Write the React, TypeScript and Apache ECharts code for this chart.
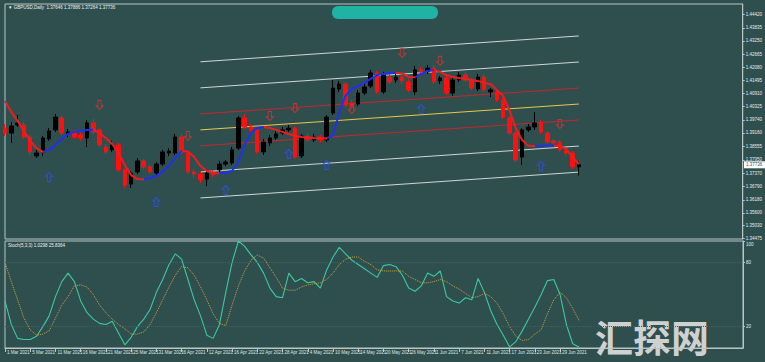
import React, { useEffect, useRef } from 'react';
import * as echarts from 'echarts';

const DATES = ['1 Mar 2021','2 Mar 2021','3 Mar 2021','4 Mar 2021','5 Mar 2021','8 Mar 2021','9 Mar 2021','10 Mar 2021','11 Mar 2021','12 Mar 2021','14 Mar 2021','15 Mar 2021','16 Mar 2021','17 Mar 2021','18 Mar 2021','19 Mar 2021','21 Mar 2021','22 Mar 2021','23 Mar 2021','24 Mar 2021','25 Mar 2021','26 Mar 2021','29 Mar 2021','30 Mar 2021','31 Mar 2021','1 Apr 2021','2 Apr 2021','5 Apr 2021','6 Apr 2021','7 Apr 2021','8 Apr 2021','9 Apr 2021','12 Apr 2021','13 Apr 2021','14 Apr 2021','15 Apr 2021','16 Apr 2021','19 Apr 2021','20 Apr 2021','21 Apr 2021','22 Apr 2021','23 Apr 2021','26 Apr 2021','27 Apr 2021','28 Apr 2021','29 Apr 2021','30 Apr 2021','3 May 2021','4 May 2021','5 May 2021','6 May 2021','7 May 2021','10 May 2021','11 May 2021','12 May 2021','13 May 2021','14 May 2021','17 May 2021','18 May 2021','19 May 2021','20 May 2021','21 May 2021','24 May 2021','25 May 2021','26 May 2021','27 May 2021','28 May 2021','31 May 2021','1 Jun 2021','2 Jun 2021','3 Jun 2021','4 Jun 2021','7 Jun 2021','8 Jun 2021','9 Jun 2021','10 Jun 2021','11 Jun 2021','14 Jun 2021','15 Jun 2021','16 Jun 2021','17 Jun 2021','18 Jun 2021','21 Jun 2021','22 Jun 2021','23 Jun 2021','24 Jun 2021','25 Jun 2021','28 Jun 2021','29 Jun 2021','30 Jun 2021','1 Jul 2021','2 Jul 2021'];

const OPEN = [1.3937,1.3915,1.3951,1.3951,1.3897,1.3813,1.3831,1.3889,1.3929,1.3982,1.3911,1.3915,1.3906,1.3893,1.3960,1.3929,1.3853,1.3840,1.3862,1.3751,1.3688,1.3742,1.3791,1.3764,1.3737,1.3777,1.3826,1.3826,1.3897,1.3826,1.3742,1.3733,1.3710,1.3737,1.3751,1.3777,1.3782,1.3848,1.3982,1.3942,1.3929,1.3831,1.3871,1.3893,1.3915,1.3929,1.3937,1.3813,1.3897,1.3884,1.3897,1.3884,1.4004,1.4111,1.4133,1.4049,1.4044,1.4093,1.4124,1.4182,1.4098,1.4164,1.4151,1.4164,1.4142,1.4098,1.4196,1.4187,1.4204,1.4147,1.4160,1.4093,1.4151,1.4173,1.4151,1.4111,1.4164,1.4098,1.4098,1.4062,1.3982,1.3915,1.3808,1.3929,1.3942,1.3964,1.3915,1.3880,1.3875,1.3840,1.3826,1.37646];
const CLOSE = [1.3915,1.3946,1.3960,1.3897,1.3831,1.3826,1.3893,1.3924,1.3986,1.3915,1.3920,1.3897,1.3893,1.3960,1.3920,1.3862,1.3831,1.3862,1.3751,1.3684,1.3737,1.3791,1.3764,1.3742,1.3777,1.3831,1.3835,1.3897,1.3831,1.3742,1.3733,1.3706,1.3737,1.3728,1.3777,1.3786,1.3840,1.3982,1.3942,1.3929,1.3831,1.3875,1.3893,1.3911,1.3929,1.3937,1.3808,1.3902,1.3884,1.3897,1.3884,1.3986,1.4115,1.4133,1.4040,1.4031,1.4093,1.4120,1.4182,1.4098,1.4173,1.4142,1.4164,1.4147,1.4107,1.4196,1.4187,1.4204,1.4142,1.4160,1.4093,1.4151,1.4173,1.4151,1.4115,1.4164,1.4107,1.4107,1.4062,1.3986,1.3915,1.3795,1.3929,1.3942,1.3960,1.3920,1.3875,1.3871,1.3840,1.3826,1.3764,1.37736];
const LOW = [1.3902,1.3871,1.3942,1.3889,1.3817,1.3804,1.3813,1.3880,1.3920,1.3906,1.3897,1.3889,1.3880,1.3853,1.3911,1.3853,1.3822,1.3831,1.3742,1.3670,1.3670,1.3733,1.3755,1.3733,1.3724,1.3768,1.3813,1.3817,1.3822,1.3733,1.3715,1.3693,1.3679,1.3719,1.3742,1.3768,1.3773,1.3840,1.3933,1.3920,1.3822,1.3817,1.3857,1.3884,1.3906,1.3920,1.3800,1.3804,1.3875,1.3875,1.3871,1.3875,1.3995,1.4098,1.4031,1.4022,1.4035,1.4084,1.4115,1.4089,1.4089,1.4133,1.4138,1.4133,1.4098,1.4084,1.4173,1.4178,1.4133,1.4133,1.4084,1.4080,1.4142,1.4142,1.4107,1.4102,1.4098,1.4075,1.4053,1.3978,1.3906,1.3786,1.3773,1.3920,1.3929,1.3911,1.3866,1.3862,1.3831,1.3813,1.3755,1.37264];
const HIGH = [1.3955,1.3964,1.3995,1.3964,1.3906,1.3840,1.3902,1.3937,1.4000,1.3991,1.3933,1.3929,1.3920,1.3973,1.3978,1.3937,1.3866,1.3880,1.3871,1.3759,1.3746,1.3804,1.3800,1.3773,1.3786,1.3840,1.3848,1.3911,1.3911,1.3835,1.3755,1.3746,1.3751,1.3751,1.3791,1.3795,1.3853,1.3991,1.4000,1.3955,1.3937,1.3889,1.3906,1.3924,1.3942,1.3951,1.3946,1.3911,1.3911,1.3911,1.3906,1.3995,1.4151,1.4147,1.4142,1.4062,1.4107,1.4133,1.4196,1.4191,1.4187,1.4178,1.4178,1.4182,1.4156,1.4213,1.4209,1.4218,1.4218,1.4169,1.4169,1.4169,1.4187,1.4187,1.4160,1.4178,1.4178,1.4115,1.4111,1.4071,1.3991,1.3924,1.3937,1.3955,1.4009,1.3973,1.3924,1.3889,1.3884,1.3848,1.3835,1.37886];

const MA = [1.4058,1.4009,1.3969,1.3924,1.3880,1.3848,1.3831,1.3840,1.3862,1.3889,1.3911,1.3920,1.3924,1.3929,1.3930,1.3915,1.3893,1.3866,1.3826,1.3773,1.3728,1.3710,1.3709,1.3715,1.3724,1.3742,1.3768,1.3804,1.3835,1.3833,1.3808,1.3768,1.3746,1.3737,1.3736,1.3738,1.3746,1.3786,1.3862,1.3915,1.3937,1.3942,1.3937,1.3929,1.3920,1.3911,1.3902,1.3897,1.3896,1.3893,1.3892,1.3891,1.3904,1.4004,1.4080,1.4111,1.4124,1.4138,1.4156,1.4173,1.4178,1.4182,1.4183,1.4180,1.4164,1.4163,1.4178,1.4191,1.4196,1.4187,1.4173,1.4164,1.4160,1.4156,1.4151,1.4147,1.4138,1.4133,1.4107,1.4080,1.4017,1.3937,1.3884,1.3858,1.3857,1.3858,1.3859,1.3860,1.3857,1.3844,1.3808,1.3777];

const STOCH_MAIN = [44,22,9,8,8,11,20,30,48,62,70,62,44,33,27,23,22,25,14,3,10,20,27,36,52,64,78,88,83,64,45,30,12,9,22,52,80,100,95,87,80,70,56,48,47,70,62,65,61,62,56,73,85,94,88,82,78,74,70,66,77,78,76,68,56,53,58,70,67,72,48,44,42,47,45,65,52,35,22,12,1,6,16,27,38,50,63,64,50,22,4,1.0298];
const STOCH_SIGNAL = [80,62,45,28,17,12,13,16,28,40,48,58,59,57,50,40,33,27,22,18,13,13,15,22,33,45,57,68,76,75,68,57,45,32,23,21,40,58,72,82,87,84,75,66,56,54,54,57,59,60,61,64,70,78,83,85,85,81,78,73,72,72,72,72,67,64,61,61,62,64,62,58,55,51,47,48,51,48,42,32,20,11,7,8,13,17,32,45,52,47,37,25.8364];
const STOCH_LEVELS = [80, 20];

const CHANNEL_START_IDX = 31;
const CHANNEL_END_IDX = 91;
const CHANNEL_MID_START = 1.3929;
const CHANNEL_MID_END = 1.4044;
const CHANNEL_DEVS = [0.0071, 0.0187, 0.0303];

const UP_ARROWS_IDX = [7, 24, 35, 45, 51, 66, 85];
const UP_ARROWS_PRICE = [1.3719, 1.3608, 1.3662, 1.3822, 1.3773, 1.4022, 1.3768];
const DOWN_ARROWS_IDX = [15, 29, 42, 46, 55, 63, 69, 88];
const DOWN_ARROWS_PRICE = [1.4040, 1.3902, 1.3991, 1.4026, 1.4022, 1.4271, 1.4236, 1.3955];

const PRICE_TICKS = [1.34475,1.35030,1.35600,1.36180,1.36790,1.37370,1.37950,1.38555,1.39160,1.39740,1.40325,1.40910,1.41495,1.42080,1.42665,1.43250,1.43835,1.44420];
const STOCH_TICKS = [100, 80, 20];

const BG = '#2F4F4F';
const FRAME = '#b9c6c6';
const FONT = 'Liberation Sans';

export default function App() {
  const ref = useRef<HTMLDivElement>(null);
  useEffect(() => {
    const chart = echarts.init(ref.current!, null, { renderer: 'svg' });
    const n = DATES.length;
    const cats = [...DATES];
    for (let i = 0; i < 26; i++) cats.push('pad' + i);
    const ohlc = DATES.map((_, i) => [OPEN[i], CLOSE[i], LOW[i], HIGH[i]]);
    const showIdx = (index: number) => index % 4 === 0 && index < n;

    const pieces: any[] = [];
    for (let i = 1; i < MA.length; i++) {
      const up = MA[i] > MA[i - 1];
      pieces.push(i === 1 ? { gte: 0, lte: 1, color: up ? '#1f2ff0' : '#ee1c1c' } : { gt: i - 1, lte: i, color: up ? '#1f2ff0' : '#ee1c1c' });
    }

    const channelSeries: any[] = [];
    const mkChan = (off: number, color: string) => ({
      type: 'line', xAxisIndex: 0, yAxisIndex: 0, symbol: 'none', silent: true, z: 1,
      data: [[CHANNEL_START_IDX, CHANNEL_MID_START + off], [CHANNEL_END_IDX, CHANNEL_MID_END + off]],
      lineStyle: { color, width: 1 },
    });
    channelSeries.push(mkChan(0, '#e9c84a'));
    channelSeries.push(mkChan(CHANNEL_DEVS[0], '#c8262a'));
    channelSeries.push(mkChan(-CHANNEL_DEVS[0], '#c8262a'));
    channelSeries.push(mkChan(CHANNEL_DEVS[1], '#cfd6d6'));
    channelSeries.push(mkChan(-CHANNEL_DEVS[1], '#cfd6d6'));
    channelSeries.push(mkChan(CHANNEL_DEVS[2], '#cfd6d6'));
    channelSeries.push(mkChan(-CHANNEL_DEVS[2], '#cfd6d6'));

    const upArrow = 'path://M3,0 L6,3.2 L4.4,3.2 L4.4,8 L1.6,8 L1.6,3.2 L0,3.2 Z';
    const downArrow = 'path://M1.6,0 L4.4,0 L4.4,4.8 L6,4.8 L3,8 L0,4.8 L1.6,4.8 Z';

    const series: any[] = [
      {
        type: 'candlestick', xAxisIndex: 0, yAxisIndex: 0, data: ohlc, barWidth: 4, z: 2,
        itemStyle: { color: '#000000', color0: '#ff1010', borderColor: '#000000', borderColor0: '#ff1010', borderWidth: 1 },
      },
      ...channelSeries,
      {
        type: 'line', xAxisIndex: 0, yAxisIndex: 0, data: MA, symbol: 'none', z: 4, silent: true,
        lineStyle: { width: 2 },
      },
      {
        type: 'scatter', xAxisIndex: 0, yAxisIndex: 0, z: 5, silent: true,
        data: DOWN_ARROWS_IDX.map((x, i) => [x, DOWN_ARROWS_PRICE[i]]),
        symbol: downArrow, symbolSize: [7, 9],
        itemStyle: { color: 'rgba(0,0,0,0)', borderColor: '#e0302a', borderWidth: 1 },
      },
      {
        type: 'scatter', xAxisIndex: 0, yAxisIndex: 0, z: 5, silent: true,
        data: UP_ARROWS_IDX.map((x, i) => [x, UP_ARROWS_PRICE[i]]),
        symbol: upArrow, symbolSize: [7, 9],
        itemStyle: { color: 'rgba(0,0,0,0)', borderColor: '#3050f0', borderWidth: 1 },
      },
      {
        type: 'line', xAxisIndex: 1, yAxisIndex: 1, data: STOCH_MAIN, symbol: 'none', silent: true,
        lineStyle: { color: '#3cc8a0', width: 1.1 },
        markLine: {
          symbol: 'none', silent: true, animation: false,
          data: STOCH_LEVELS.map((v) => ({ yAxis: v })),
          lineStyle: { color: '#8a4040', type: 'dotted', width: 1 },
          label: { show: false },
        },
      },
      {
        type: 'line', xAxisIndex: 1, yAxisIndex: 1, data: STOCH_SIGNAL, symbol: 'none', silent: true,
        lineStyle: { color: '#c9a43c', width: 1, type: 'dotted' },
      },
    ];
    const maIndex = 1 + channelSeries.length;

    const graphics: any[] = [
      { type: 'text', left: 8, top: 5, silent: true, style: { text: '\u25BC GBPUSD,Daily  1.37646 1.37886 1.37264 1.37736', fill: '#f2f2f2', fontSize: 4.5, fontFamily: FONT } },
      { type: 'text', left: 8, top: 243, silent: true, style: { text: 'Stoch(5,3,3) 1.0298 25.8364', fill: '#f2f2f2', fontSize: 4.5, fontFamily: FONT } },
      { type: 'rect', silent: true, shape: { x: 332, y: 6, width: 106, height: 13, r: 6 }, style: { fill: '#20b3a4' } },
      { type: 'text', left: 595, top: 316, silent: true, style: { text: '汇探网', fill: '#dadada', fontSize: 38, fontWeight: 'bold', fontFamily: 'Noto Sans CJK SC', opacity: 0.95 } },
    ];

    const option: any = {
      animation: false,
      backgroundColor: BG,
      textStyle: { fontFamily: FONT },
      grid: [
        { left: 5, right: 22, top: 4, height: 235, show: true, borderColor: FRAME, borderWidth: 1, backgroundColor: 'transparent' },
        { left: 5, right: 22, top: 241, height: 107, show: true, borderColor: FRAME, borderWidth: 1, backgroundColor: 'transparent' },
      ],
      xAxis: [
        { type: 'category', gridIndex: 0, data: cats, boundaryGap: false, axisLine: { show: false }, axisTick: { show: false }, axisLabel: { show: false }, splitLine: { show: false } },
        {
          type: 'category', gridIndex: 1, data: cats, boundaryGap: false, position: 'bottom',
          axisLine: { show: true, lineStyle: { color: FRAME } },
          axisTick: { show: true, interval: (i: number) => showIdx(i), length: 4, lineStyle: { color: FRAME } },
          axisLabel: { show: true, interval: (i: number) => showIdx(i), align: 'left', fontSize: 4.5, color: '#dfe6e6', margin: 2, fontFamily: FONT, padding: [0, 0, 0, 2] },
          splitLine: { show: false },
        },
      ],
      yAxis: [
        {
          type: 'value', gridIndex: 0, position: 'right', min: 1.34434, max: 1.44892, scale: true,
          splitLine: { show: false },
          axisLine: { show: true, lineStyle: { color: FRAME } },
          axisTick: { show: true, length: 2, inside: false, customValues: PRICE_TICKS, lineStyle: { color: FRAME } },
          axisLabel: { customValues: PRICE_TICKS, formatter: (v: number) => v.toFixed(5), fontSize: 4.5, color: '#e6ecec', margin: 3, fontFamily: FONT },
        },
        {
          type: 'value', gridIndex: 1, position: 'right', min: 0, max: 100,
          splitLine: { show: false },
          axisLine: { show: true, lineStyle: { color: FRAME } },
          axisTick: { show: true, length: 2, customValues: STOCH_TICKS, lineStyle: { color: FRAME } },
          axisLabel: {
            customValues: STOCH_TICKS, fontSize: 4.5, color: '#e6ecec', margin: 3, fontFamily: FONT,
            formatter: (v: number) => (v === 100 ? '{t|100}' : String(v)),
            rich: { t: { fontSize: 4.5, color: '#e6ecec', fontFamily: FONT, padding: [7, 0, 0, 0] } },
          },
        },
      ],
      visualMap: [{ type: 'piecewise', show: false, seriesIndex: maIndex, dimension: 0, pieces, outOfRange: { color: '#1f2ff0' } }],
      series,
      graphic: graphics,
    };
    chart.setOption(option);

    // current-price tag on the price axis, placed through the chart's own scale
    const lastClose = CLOSE[n - 1];
    const pt = chart.convertToPixel({ gridIndex: 0 }, [0, lastClose]) as number[];
    const axisX = 765 - 22;
    chart.setOption({
      graphic: [
        ...graphics,
        { type: 'rect', silent: true, z: 100, shape: { x: axisX + 1, y: pt[1] - 3.5, width: 22, height: 7 }, style: { fill: '#ffffff' } },
        { type: 'text', silent: true, z: 101, x: axisX + 3, y: pt[1], style: { text: lastClose.toFixed(5), fill: '#2F4F4F', fontSize: 4.5, fontFamily: FONT, verticalAlign: 'middle' } },
      ],
    }, { replaceMerge: ['graphic'] });

    return () => chart.dispose();
  }, []);
  return <div ref={ref} style={{ position: 'fixed', left: 0, top: 0, width: 765, height: 362, background: BG }} />;
}
